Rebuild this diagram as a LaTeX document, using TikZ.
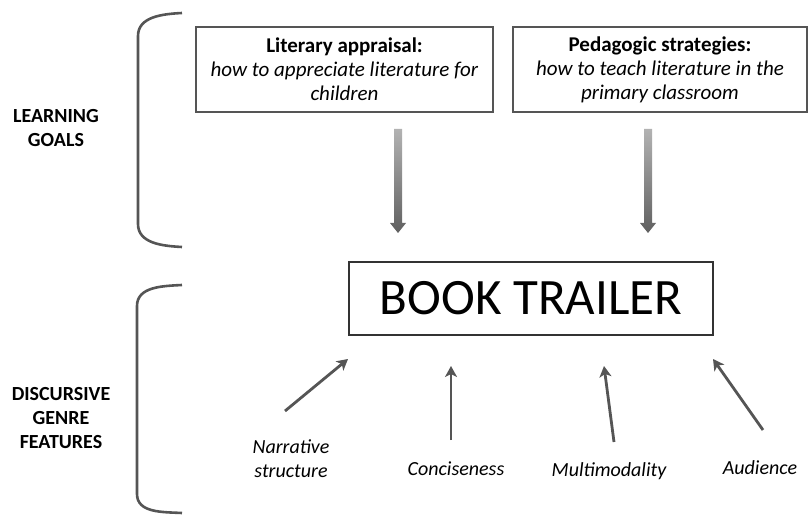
\documentclass[tikz,border=0pt]{standalone}
\usepackage{fontspec}
\setmainfont{Carlito}
\usetikzlibrary{arrows.meta,positioning}

\definecolor{linegray}{HTML}{555555}

\tikzset{
  goalbox/.style={draw=linegray, line width=1.1pt, inner sep=0pt, align=center,
    minimum width=297, minimum height=85, font=\fontsize{21}{24}\selectfont},
  trailerbox/.style={draw=black!80, line width=1.4pt, inner sep=0pt,
    minimum width=364, minimum height=73, font=\fontsize{51}{60}\selectfont},
  sidelabel/.style={align=center, font=\fontsize{20}{24}\selectfont\bfseries},
  featlabel/.style={align=center, font=\fontsize{20}{24}\selectfont\itshape},
  bracket/.style={draw=linegray, line width=2.6pt},
  featarrow/.style={draw=linegray, line width=2.8pt, -{Stealth[length=11pt,width=12pt,inset=3pt]}},
  downarrow/.pic={
    \shade[top color=gray!60, bottom color=gray!75!black]
      (-4,0) -- (4,0) -- (4,{#1-10}) -- (8,{#1-10}) -- (0,#1)
      -- (-8,{#1-10}) -- (-4,{#1-10}) -- cycle;
  }
}

\begin{document}
\begin{tikzpicture}[x=1pt, y=-1pt]
  \useasboundingbox (0,0) rectangle (810,518);

  % Learning goals
  \node[goalbox] (appraisal) at (344.5,69.5)
    {\textbf{Literary appraisal:}\\\textit{how to appreciate literature for}\\\textit{children}};
  \node[goalbox, minimum width=294] (strategies) at (660,69.5)
    {\textbf{Pedagogic strategies:}\\\textit{how to teach literature in the}\\\textit{primary classroom}};

  % Book trailer
  \node[trailerbox] (trailer) at (531,298.5) {BOOK TRAILER};

  % Side labels
  \node[sidelabel] (goals) at (56,128) {LEARNING\\GOALS};
  \node[sidelabel] (genre) at (61,418) {DISCURSIVE\\GENRE\\FEATURES};

  % Brackets
  \draw[bracket] (182,13) to[out=183,in=90] (138,36) -- (138,224) to[out=-90,in=177] (182,247);
  \draw[bracket] (182,285) to[out=183,in=90] (137,306) -- (137,494) to[out=-90,in=177] (182,513);

  % Goal arrows
  \pic at (398,129) {downarrow=104};
  \pic at (648,129) {downarrow=104};

  % Features
  \node[featlabel] (narrative) at (291,459) {Narrative\\structure};
  \node[featlabel] (concise) at (456,469) {Conciseness};
  \node[featlabel] (multi) at (609,471) {Multimodality};
  \node[featlabel] (audience) at (760,468) {Audience};

  % Feature arrows
  \coordinate (n1) at (285,411);  \coordinate (n2) at (348,359);
  \coordinate (c1) at (451,440);  \coordinate (c2) at (451,366);
  \coordinate (m1) at (614,442);  \coordinate (m2) at (604,366);
  \coordinate (a1) at (763,430);  \coordinate (a2) at (713,359);
  \draw[featarrow] (n1) -- (n2);
  \draw[featarrow] (c1) -- (c2);
  \draw[featarrow] (m1) -- (m2);
  \draw[featarrow] (a1) -- (a2);
\end{tikzpicture}
\end{document}
